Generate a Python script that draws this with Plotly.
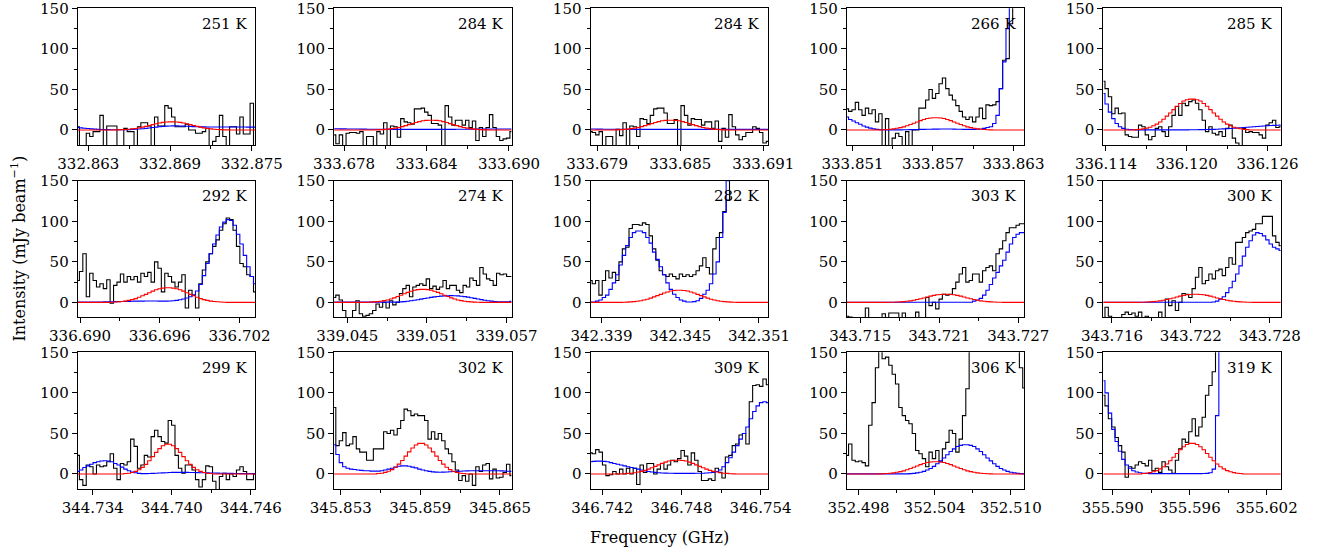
import numpy as np
import plotly.graph_objects as go
from plotly.subplots import make_subplots

# labels, frequency windows (GHz) and first labelled tick of each panel
temps = ["251 K", "284 K", "284 K", "266 K", "285 K",
         "292 K", "274 K", "282 K", "303 K", "300 K",
         "299 K", "302 K", "309 K", "306 K", "319 K"]
first_tick = [332.863, 333.678, 333.679, 333.851, 336.114,
              336.690, 339.045, 342.339, 343.715, 343.716,
              344.734, 345.853, 346.742, 352.498, 355.590]
f_lo = [332.86222, 333.67727, 333.67852, 333.85058, 336.11380,
        336.68982, 339.04400, 342.33816, 343.71399, 343.71534,
        344.73286, 345.85250, 346.74111, 352.49708, 355.58927]
f_hi = [332.87525, 333.69019, 333.69134, 333.86382, 336.12699,
        336.70318, 339.05738, 342.35169, 343.72746, 343.72884,
        344.74633, 345.86588, 346.75456, 352.51108, 355.60310]

# observed spectra (mJy/beam), one value per channel
obs_1 = [4, -22, -22, -4, -8, -2, -2, 18, -22, 5, 5, 5, -22, -22, 2, -2, -2, -22, 4, 9,
         9, 5, -22, 16, 5, 5, 30, 27, 16, 4, 4, 4, 7, 0, 0, -4, -4, -2, 2, -22,
         -14, -8, 18, -8, -22, 4, 4, -5, 16, -5, -5, 33, -22]
obs_2 = [-6, -17, -6, -22, -4, -3, -3, -4, -2, -22, -8, -8, -22, -2, -5, 9, -22, 5, 4, -9,
         14, 10, 9, 7, 26, 26, 27, 22, 18, 8, 8, 6, -22, 30, 16, 6, 12, 12, 6, 12,
         3, 11, -13, 3, -8, 3, 19, 3, -8, -13, -11, -10, -2]
obs_3 = [-2, -3, -6, -2, -22, -8, -8, -22, 1, -7, 9, -22, 5, 4, -8, 14, 13, 8, 18, 26,
         27, 27, 21, 8, 8, 13, -22, 30, 18, 6, 14, 13, 13, 6, 10, 10, 2, 11, -14, 2,
         -9, 19, 4, -6, -12, -8, -3, -3, 4, 2, -3, -16, -14]
obs_4 = [26, 23, 25, 34, 25, 18, 27, 20, 25, 10, 20, -22, 14, -22, -10, -4, -8, -22, -2, -22,
         0, 0, 27, 27, 37, 50, 39, 45, 57, 64, 51, 43, 37, 30, 23, 16, 13, 16, 10, 16,
         27, 14, 31, 30, 31, 35, 51, 86, 88, 131, 160, 170, 200, 210]
obs_5 = [60, 51, 41, 20, 27, 20, 21, -6, -8, -9, -9, 6, 4, -6, -12, -8, 2, 4, -2, -8,
         4, 18, 29, 18, 33, 30, 35, 37, 33, 25, 12, -2, 4, -4, -6, -2, -8, 2, 6, -10,
         -16, -22, 2, -3, -2, -3, -3, -6, -10, 6, 9, 12, 3, 4]
obs_6 = [27, 38, 60, 7, 36, 27, 19, 23, 17, 28, -1, 21, 25, 35, 25, 32, 28, 32, 25, 36,
         32, 37, 25, 50, 42, 13, 36, 32, 25, 19, 25, 34, -7, 15, 9, -7, 23, 40, 50, 60,
         69, 77, 89, 97, 104, 102, 89, 69, 48, 44, 34, 32, 13]
obs_7 = [6, 9, 3, -10, -22, -22, -10, 2, -14, -17, -16, -14, -10, -2, -6, 0, -7, 2, -3, 0,
         11, 17, 21, 7, 19, 21, 23, 21, 29, 17, 20, 16, 19, 27, 17, 21, 21, 15, 12, 21,
         19, 30, 27, 21, 43, 35, 29, 27, 21, 36, 34, 35, 32, 32]
obs_8 = [27, 23, 27, 9, 27, 39, 30, 37, 27, 50, 66, 68, 91, 96, 96, 95, 98, 96, 82, 66,
         52, 39, 34, 32, 35, 32, 29, 35, 32, 34, 32, 34, 39, 45, 55, 43, 35, 66, 80, 86,
         112, 126, 180, 250, 250, 250, 250, 250, 250, 250, 250, 250, 250, 250]
obs_9 = [-17, -18, -22, -22, -22, -22, -7, -22, -22, -22, -22, -14, -22, -13, -13, -13, -22, -13, -22, -22,
         -22, -12, -22, -22, 6, -4, 0, -8, 4, 10, 9, 10, 17, 25, 35, 43, 25, 27, 35, 35,
         25, 39, 43, 45, 39, 60, 66, 76, 86, 92, 92, 95, 97, 97]
obs_10 = [-22, -6, -17, -22, -22, -22, -15, -12, -15, -13, -17, -12, -22, -17, -22, -22, -22, -12, -22, 4,
          -4, 2, -10, 0, 11, 10, 6, 17, 31, 43, 23, 27, 35, 29, 39, 41, 33, 43, 55, 47,
          74, 74, 80, 86, 88, 90, 97, 97, 106, 106, 106, 82, 74, 70]
obs_11 = [23, -7, -14, 11, 9, 0, 11, 9, 10, 15, 25, 7, -7, 13, 11, 15, 43, 34, 7, 11,
          23, 21, 46, 54, 46, 40, 38, 66, 60, 23, 7, 1, 11, 11, 5, -7, -16, -7, 10, 9,
          -9, -22, -3, 1, -7, 0, -3, 5, 9, 3, -7, -7, 0]
obs_12 = [82, 35, 41, 51, 35, 37, 46, 31, 27, 27, 17, 17, 31, 31, 31, 52, 50, 54, 48, 56,
          66, 80, 78, 72, 74, 72, 72, 66, 43, 52, 43, 50, 41, 31, 25, 15, 5, -8, -2, -9,
          0, -14, 9, 3, 11, 13, -6, 6, -5, -4, 2, 12, -2]
obs_13 = [26, 25, 30, 27, 11, -2, -1, 3, 0, 6, 0, 7, 0, 7, -13, 11, 2, 13, 13, 0,
          6, 13, 6, 11, 17, 15, 19, 29, 22, 11, 26, 17, 3, -8, -8, -6, -8, 7, 2, -5,
          21, 23, 35, 37, 48, 50, 37, 89, 109, 110, 108, 117, 110]
obs_14 = [23, 37, 17, 15, 16, 14, 10, 60, 88, 131, 152, 142, 144, 134, 123, 111, 82, 72, 66, 62,
          50, 29, 25, 19, 9, 27, 19, 29, 15, 31, 39, 54, 50, 27, 43, 72, 105, 160, 200, 200,
          200, 200, 200, 200, 200, 200, 200, 200, 200, 200, 200, 200, 131, 106]
obs_15 = [97, 84, 68, 58, 45, 35, 27, -4, 9, 7, 11, 15, 13, 10, 17, 4, 7, 2, 15, 9,
          5, 1, 17, 31, 43, 39, 52, 68, 47, 58, 70, 97, 109, 126, 160, 200, 200, 200, 200, 200,
          200, 200, 200, 200, 200, 200, 200, 200, 200, 200, 200, 200, 200, 200]

# red model (line of interest)
red_1 = [0] * 11 + [0.1, 0.2, 0.4, 0.6, 0.9, 1.4, 1.9, 2.6, 3.5, 4.5, 5.5, 6.6, 7.7, 8.6, 9.4, 9.8, 10,
                    10, 9.8, 9.4, 8.6, 7.7, 6.6, 5.5, 4.5, 3.5, 2.6, 1.9, 1.4, 0.9, 0.6, 0.4, 0.2, 0.1] + [0] * 8
red_2 = [0] * 12 + [0.1, 0.2, 0.5, 0.7, 1.1, 1.7, 2.3, 3.1, 4.2, 5.4, 6.6, 7.9, 9.2, 10.3, 11.3, 11.8, 12,
                    12, 11.8, 11.3, 10.3, 9.2, 7.9, 6.6, 5.4, 4.2, 3.1, 2.3, 1.7, 1.1, 0.7, 0.5, 0.2, 0.1] + [0] * 7
red_3 = [0] * 7 + [0.1, 0.2, 0.5, 0.7, 1.1, 1.7, 2.3, 3.1, 4.2, 5.4, 6.6, 7.9, 9.2, 10.3, 11.3, 11.8, 12,
                   12, 11.8, 11.3, 10.3, 9.2, 7.9, 6.6, 5.4, 4.2, 3.1, 2.3, 1.7, 1.1, 0.7, 0.5, 0.2, 0.1] + [0] * 12
red_4 = [0] * 10 + [0.2, 0.3, 0.6, 0.9, 1.4, 2.1, 2.9, 3.9, 5.3, 6.8, 8.3, 9.9, 11.6, 12.9, 14.1, 14.7, 15,
                    15, 14.7, 14.1, 12.9, 11.6, 9.9, 8.3, 6.8, 5.3, 3.9, 2.9, 2.1, 1.4, 0.9, 0.6, 0.3, 0.2] + [0] * 10
red_5 = [0] * 10 + [0.4, 0.8, 1.5, 2.3, 3.4, 5.3, 7.2, 9.9, 13.3, 17.1, 20.9, 25.1, 29.3, 32.7, 35.7, 37.2, 38,
                    38, 37.2, 35.7, 32.7, 29.3, 25.1, 20.9, 17.1, 13.3, 9.9, 7.2, 5.3, 3.4, 2.3, 1.5, 0.8, 0.4] + [0] * 10
red_6 = [0] * 10 + [0.2, 0.4, 0.7, 1.1, 1.6, 2.5, 3.4, 4.7, 6.3, 8.1, 9.9, 11.9, 13.9, 15.5, 16.9, 17.6, 18,
                    18, 17.6, 16.9, 15.5, 13.9, 11.9, 9.9, 8.1, 6.3, 4.7, 3.4, 2.5, 1.6, 1.1, 0.7, 0.4, 0.2] + [0] * 9
red_7 = [0] * 10 + [0.2, 0.3, 0.6, 1, 1.4, 2.2, 3, 4.2, 5.6, 7.2, 8.8, 10.6, 12.3, 13.8, 15, 15.7, 16,
                    16, 15.7, 15, 13.8, 12.3, 10.6, 8.8, 7.2, 5.6, 4.2, 3, 2.2, 1.4, 1, 0.6, 0.3, 0.2] + [0] * 10
red_8 = [0] * 10 + [0.2, 0.3, 0.6, 0.9, 1.4, 2.1, 2.9, 3.9, 5.3, 6.8, 8.3, 9.9, 11.6, 12.9, 14.1, 14.7, 15,
                    15, 14.7, 14.1, 12.9, 11.6, 9.9, 8.3, 6.8, 5.3, 3.9, 2.9, 2.1, 1.4, 0.9, 0.6, 0.3, 0.2] + [0] * 10
red_9 = [0] * 13 + [0.1, 0.2, 0.4, 0.6, 0.9, 1.4, 1.9, 2.6, 3.5, 4.5, 5.5, 6.6, 7.7, 8.6, 9.4, 9.8, 10,
                    10, 9.8, 9.4, 8.6, 7.7, 6.6, 5.5, 4.5, 3.5, 2.6, 1.9, 1.4, 0.9, 0.6, 0.4, 0.2, 0.1] + [0] * 7
red_10 = [0] * 11 + [0.1, 0.2, 0.4, 0.6, 0.9, 1.4, 1.9, 2.6, 3.5, 4.5, 5.5, 6.6, 7.7, 8.6, 9.4, 9.8, 10,
                     10, 9.8, 9.4, 8.6, 7.7, 6.6, 5.5, 4.5, 3.5, 2.6, 1.9, 1.4, 0.9, 0.6, 0.4, 0.2, 0.1] + [0] * 9
red_11 = [0] * 14 + [0.6, 1, 1.9, 3.2, 5.3, 8.1, 11.8, 16.3, 21.4, 26.6, 31.3, 34.8, 36.7,
                     36.7, 34.8, 31.3, 26.6, 21.4, 16.3, 11.8, 8.1, 5.3, 3.2, 1.9, 1, 0.6] + [0] * 13
red_12 = [0] * 13 + [0.6, 1, 2, 3.3, 5.4, 8.3, 12.1, 16.7, 22, 27.3, 32.1, 35.7, 37.7,
                     37.7, 35.7, 32.1, 27.3, 22, 16.7, 12.1, 8.3, 5.4, 3.3, 2, 1, 0.6] + [0] * 14
red_13 = [0] * 9 + [0.2, 0.3, 0.7, 1, 1.5, 2.4, 3.2, 4.4, 6, 7.7, 9.4, 11.2, 13.1, 14.6, 16, 16.7, 17,
                    17, 16.7, 16, 14.6, 13.1, 11.2, 9.4, 7.7, 6, 4.4, 3.2, 2.4, 1.5, 1, 0.7, 0.3, 0.2] + [0] * 10
red_14 = [0] * 10 + [0.2, 0.3, 0.6, 0.9, 1.4, 2.1, 2.9, 3.9, 5.3, 6.8, 8.3, 9.9, 11.6, 12.9, 14.1, 14.7, 15,
                     15, 14.7, 14.1, 12.9, 11.6, 9.9, 8.3, 6.8, 5.3, 3.9, 2.9, 2.1, 1.4, 0.9, 0.6, 0.3, 0.2] + [0] * 10
red_15 = [0] * 12 + [0.6, 1, 1.7, 2.7, 4.2, 6.3, 9, 12.4, 16.3, 20.7, 25.3, 29.8, 33.5, 36.3, 37.8,
                     37.8, 36.3, 33.5, 29.8, 25.3, 20.7, 16.3, 12.4, 9, 6.3, 4.2, 2.7, 1.7, 1, 0.6] + [0] * 12

# blue model (other species)
blue_1 = [3, 2.6, 2.2, 1.8, 1.4, 1.1, 0.8, 0.6, 0.5, 0.4, 0.3, 0.3, 0.3, 0.3, 0.4, 0.5, 0.7, 0.9, 1.2, 1.6,
          2, 2.5, 3, 3.5, 4, 4.4, 4.8, 5, 5.1, 5.1, 5, 4.8, 4.6, 4.4, 4.2, 4, 3.9, 3.8, 3.7, 3.7,
          3.6, 3.6, 3.6, 3.6, 3.6, 3.6, 3.6, 3.6, 3.6, 3.6, 3.5, 3.5, 3.5]
blue_2 = [1.5, 1.5, 1.4, 1.4, 1.3, 1.3, 1.2, 1.2, 1.1, 1.1, 1, 1, 0.9, 0.9, 0.8, 0.8, 0.8, 0.8, 0.8, 0.8,
          0.8, 0.8, 0.8, 0.8, 0.8, 0.8, 0.8, 0.8, 0.8, 0.8, 0.8, 0.8, 0.8, 0.8, 0.8, 0.8, 0.9, 0.9, 1, 1,
          1, 1.1, 1.1, 1.2, 1.2, 1.2, 1.3, 1.3, 1.3, 1.3, 1.3, 1.3, 1.3]
blue_3 = [1.2, 1.2, 1.1, 1.1, 1, 1, 0.9, 0.9, 0.9, 0.8, 0.8, 0.8, 0.8, 0.8, 0.8, 0.8, 0.8, 0.8, 0.8, 0.8,
          0.8, 0.8, 0.8, 0.8, 0.8, 0.8, 0.8, 0.8, 0.8, 0.8, 0.8, 0.8, 0.8, 0.8, 0.8, 0.8, 0.8, 0.8, 0.8, 0.8,
          0.8, 0.8, 0.8, 0.8, 0.8, 0.8, 0.8, 0.8, 0.8, 0.8, 0.8, 0.8, 0.8]
blue_4 = [16, 13, 11, 9, 7, 5, 3.5, 2.3, 1.4, 0.8, 0.5, 0.3, 0.2, 0.2, 0.2, 0.2, 0.2, 0.3, 0.3, 0.4,
          0.5, 0.6, 0.7, 0.8, 0.9, 1, 1.1, 1.1, 1.2, 1.2, 1.2, 1.2, 1.1, 1, 0.9, 0.8, 0.7, 0.7, 0.8, 1,
          1.3, 2, 3, 4, 8, 18, 51, 84, 125, 170, 250, 250, 250, 250]
blue_5 = [45, 32, 22, 14, 8, 4, 2, 1, 0.5, 0.3] + [0.2] * 16 + \
         [0.3, 0.3, 0.3, 0.4, 0.5, 0.6, 0.7, 0.8, 1, 1.2, 1.4, 1.6, 1.9, 2.2, 2.5, 2.8, 3.1, 3.4, 3.7, 4,
          4.3, 4.6, 4.9, 5.2, 5.5, 5.7, 5.9, 6]
blue_6 = [0.3, 0.3, 0.3, 0.3, 0.4, 0.4, 0.5, 0.5, 0.6, 0.7, 0.8, 0.9, 1, 1.1, 1.2, 1.3, 1.4, 1.5, 1.6, 1.6,
          1.7, 1.7, 1.7, 1.7, 1.6, 1.6, 1.6, 1.7, 2, 2.5, 3.2, 4.2, 5.5, 7, 9, 14, 22, 33, 48, 60,
          72, 83, 93, 99, 102, 101, 95, 84, 72, 58, 44, 32, 23]
blue_7 = [0.3] * 20 + [0.6, 1, 1.4, 2, 2.6, 3.3, 4, 4.8, 5.5, 6.2, 6.8, 7.3, 7.7, 8, 8.2, 8.3, 8.2, 8, 7.6, 7.1,
                       6.5, 5.8, 5, 4.2, 3.4, 2.7, 2, 1.5, 1.1, 0.8, 0.6, 0.6, 0.8, 1.2]
blue_8 = [0.3, 0.5, 1.5, 3, 6, 9, 16, 24, 34, 46, 58, 70, 80, 86, 88, 88, 86, 80, 73, 62,
          53, 44, 34, 24, 16, 10, 6, 3, 1.5, 0.5, 0.4, 1, 2, 5, 10, 15, 23, 35, 50, 80,
          111, 150, 200, 250, 250, 250, 250, 250, 250, 250, 250, 250, 250, 250]
blue_9 = [0.2] * 38 + [1.5, 3, 5, 9, 15, 22, 30, 37, 45, 52, 62, 72, 80, 84, 86, 86]
blue_10 = [0.2] * 33 + [0.5, 1.5, 4, 7, 12, 18, 26, 35, 45, 57, 68, 76, 83, 86, 85, 82, 77, 72, 68, 66, 64]
blue_11 = [3, 5, 8, 10, 12, 14, 15, 16, 16.3, 16, 15, 13, 11, 8.5, 6, 4, 2.5, 1.5, 0.8, 0.5,
           0.5, 0.6, 0.8, 1, 1.2, 1.4, 1.6, 1.8, 2, 2, 2, 2, 2, 1.9, 1.8, 1.7, 1.6, 1.5, 1.4, 1.3,
           1.2, 1.1, 1, 0.9, 0.8, 0.7, 0.6, 0.6, 0.5, 0.5, 0.5, 0.5, 0.5]
blue_12 = [36, 24, 14, 9, 7, 6, 5.5, 5, 4.5, 4, 4, 3.5, 3.5, 3.5, 4, 5, 6, 7, 8.5, 9.5,
           10, 10, 9.5, 8.5, 7.5, 6, 5, 4, 3.2, 2.6, 2.3, 2.2, 2.3, 2.5, 2.8, 3, 3.2, 3.4, 3.6, 3.8,
           4, 4, 4, 4, 4, 4, 4, 4, 4, 3.8, 3.6, 3.4, 3.2]
blue_13 = [15, 15.5, 15.8, 15.8, 15.5, 15, 14, 13, 12, 11, 10, 9, 8, 7, 6, 5, 4, 3, 2.5, 2,
           1.6, 1.3, 1.1, 1, 0.9, 0.8, 0.8, 0.8, 0.8, 0.8, 0.8, 0.9, 0.9, 1, 1.2, 1.5, 2, 3, 5, 9,
           14, 20, 27, 35, 43, 50, 58, 68, 77, 84, 88, 89, 88]
blue_14 = [0.2] * 19 + [0.4, 0.7, 1.4, 2.2, 3.2, 5, 6.8, 9.4, 12.6, 16.2, 19.8, 23.8, 27.7, 31, 33.8, 35.3, 36,
                        36, 35.3, 33.8, 31, 27.7, 23.8, 19.8, 16.2, 12.6, 9.4, 6.8, 5, 3.2, 2.2, 1.4, 0.7, 0.4] + [0.2]
blue_15 = [115, 100, 75, 55, 40, 28, 18, 11, 7, 4, 2.5, 1.5, 1,
           0.7, 0.5, 0.4, 0.4, 0.4, 0.4, 0.4, 0.4, 0.4, 0.4, 0.4, 0.4, 0.4, 0.4, 0.4, 0.4, 0.5, 0.6, 0.8,
           1.5, 6, 72] + [250] * 19

obs = [obs_1, obs_2, obs_3, obs_4, obs_5, obs_6, obs_7, obs_8,
       obs_9, obs_10, obs_11, obs_12, obs_13, obs_14, obs_15]
red = [red_1, red_2, red_3, red_4, red_5, red_6, red_7, red_8,
       red_9, red_10, red_11, red_12, red_13, red_14, red_15]
blue = [blue_1, blue_2, blue_3, blue_4, blue_5, blue_6, blue_7, blue_8,
        blue_9, blue_10, blue_11, blue_12, blue_13, blue_14, blue_15]

W, H = 1327, 551
col_left = [77.7, 334.1, 590.5, 846.9, 1103.3]
row_top = [8.3, 180.7, 352.3]
pw, ph = 177.5, 136.7
font = "DejaVu Serif"

fig = make_subplots(rows=3, cols=5)

for k in range(15):
    r, c = divmod(k, 5)
    for vals, colour in [(obs[k], "black"), (blue[k], "blue"), (red[k], "red")]:
        x = np.linspace(f_lo[k], f_hi[k], len(vals))
        fig.add_trace(go.Scatter(x=x, y=vals, mode="lines",
                                 line=dict(color=colour, width=1.1, shape="hvh"),
                                 showlegend=False, hoverinfo="skip"),
                      row=r + 1, col=c + 1)

    n = "" if k == 0 else str(k + 1)
    x0 = col_left[c] / W
    y1 = 1 - row_top[r] / H
    fig.layout["xaxis" + n].update(
        domain=[x0, x0 + pw / W], range=[f_lo[k], f_hi[k]], automargin=False,
        tick0=first_tick[k], dtick=0.006, tickformat=".3f", ticklabeloverflow="allow",
        ticks="outside", ticklen=5, tickcolor="black",
        minor=dict(ticks="outside", ticklen=3, tick0=first_tick[k], dtick=0.003, tickcolor="black"),
        showline=True, linecolor="black", linewidth=1, mirror=True,
        showgrid=False, zeroline=False,
        tickfont=dict(family=font, size=15, color="black"))
    fig.layout["yaxis" + n].update(
        domain=[y1 - ph / H, y1], range=[-18.5, 150], automargin=False,
        tick0=0, dtick=50, ticklabeloverflow="allow",
        ticks="outside", ticklen=5, tickcolor="black",
        minor=dict(ticks="outside", ticklen=3, tick0=0, dtick=25, tickcolor="black"),
        showline=True, linecolor="black", linewidth=1, mirror=True,
        showgrid=False, zeroline=False,
        tickfont=dict(family=font, size=15, color="black"))

    fig.add_annotation(text=temps[k], xref="x" + n + " domain", yref="y" + n + " domain",
                       x=0.963, y=0.885, xanchor="right", yanchor="middle", showarrow=False,
                       font=dict(family=font, size=15, color="black"))

fig.add_annotation(text="Frequency (GHz)", xref="paper", yref="paper",
                   x=659.7 / W, y=1 - 537.7 / H, xanchor="center", yanchor="middle",
                   showarrow=False, font=dict(family=font, size=16, color="black"))
fig.add_annotation(text="Intensity (mJy beam<sup>\u22121</sup>)", xref="paper", yref="paper",
                   x=18.5 / W, y=1 - 249 / H, xanchor="center", yanchor="middle", textangle=-90,
                   showarrow=False, font=dict(family=font, size=16, color="black"))

fig.update_layout(width=W, height=H,
                  margin=dict(l=0, r=0, t=0, b=0, autoexpand=False),
                  plot_bgcolor="white", paper_bgcolor="white")

# drop the page's default body margin so the figure sits at the window corner
fig.write_html("out.html", config={"displayModeBar": False},
               post_script="document.body.style.margin='0';")
